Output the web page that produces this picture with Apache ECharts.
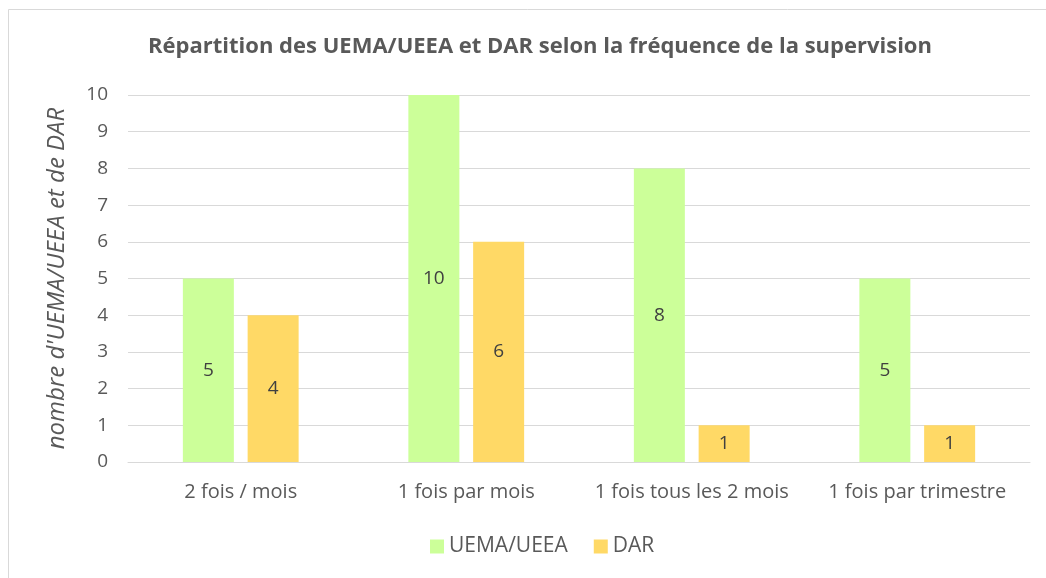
<!DOCTYPE html>
<html>
<head>
<meta charset="utf-8">
<script src="https://cdn.jsdelivr.net/npm/echarts@6/dist/echarts.min.js"></script>
<style>
  html, body { margin: 0; padding: 0; background: #fff; }
  #chart { width: 1046px; height: 578px; }
</style>
</head>
<body>
<div id="chart"></div>
<script>
const categories = ["2 fois / mois", "1 fois par mois", "1 fois tous les 2 mois", "1 fois par trimestre"]
const uemaValues = [5, 10, 8, 5]
const darValues = [4, 6, 1, 1]
const yTicks = [0, 10, 1] // min, max, interval

const font = "'Open Sans', 'Liberation Sans', sans-serif"

const chart = echarts.init(document.getElementById("chart"), null, { renderer: "canvas" })

const labelStyle = {
  show: true,
  position: "inside",
  color: "#404040",
  fontSize: 19,
  fontFamily: font
}

chart.setOption({
  animation: false,
  backgroundColor: "#fff",
  textStyle: { fontFamily: font },
  graphic: [{
    type: "rect",
    shape: { x: 8.5, y: 9.5, width: 1060, height: 600 },
    style: { fill: "none", stroke: "#d9d9d9", lineWidth: 1 },
    silent: true
  }],
  title: {
    text: "Répartition des UEMA/UEEA et DAR selon la fréquence de la supervision",
    left: 535,
    top: 31,
    textAlign: "center",
    textStyle: { color: "#595959", fontSize: 22, fontWeight: "bold", fontFamily: font }
  },
  legend: {
    bottom: 16,
    left: 425,
    itemWidth: 14,
    itemHeight: 14,
    itemGap: 26,
    icon: "rect",
    textStyle: { color: "#595959", fontSize: 21, fontFamily: font },
    data: ["UEMA/UEEA", "DAR"]
  },
  grid: { left: 128, right: 16, top: 95, bottom: 116, containLabel: false },
  xAxis: {
    type: "category",
    data: categories,
    axisLine: { lineStyle: { color: "#d9d9d9", width: 1 } },
    axisTick: { show: false },
    axisLabel: { color: "#595959", fontSize: 20, margin: 20, interval: 0 }
  },
  yAxis: {
    type: "value",
    min: yTicks[0],
    max: yTicks[1],
    interval: yTicks[2],
    name: "nombre d'UEMA/UEEA et de DAR",
    nameLocation: "middle",
    nameGap: 59,
    nameTextStyle: { color: "#595959", fontSize: 24, fontStyle: "italic", fontFamily: font },
    axisLine: { show: false },
    axisTick: { show: false },
    axisLabel: { color: "#595959", fontSize: 19, margin: 20 },
    splitLine: { lineStyle: { color: "#d9d9d9", width: 1 } }
  },
  series: [
    {
      name: "UEMA/UEEA",
      type: "bar",
      data: uemaValues,
      barWidth: 51,
      barGap: "27%",
      itemStyle: { color: "#ccff99" },
      label: labelStyle
    },
    {
      name: "DAR",
      type: "bar",
      data: darValues,
      barWidth: 51,
      itemStyle: { color: "#ffd966" },
      label: labelStyle
    }
  ]
})
</script>
</body>
</html>
